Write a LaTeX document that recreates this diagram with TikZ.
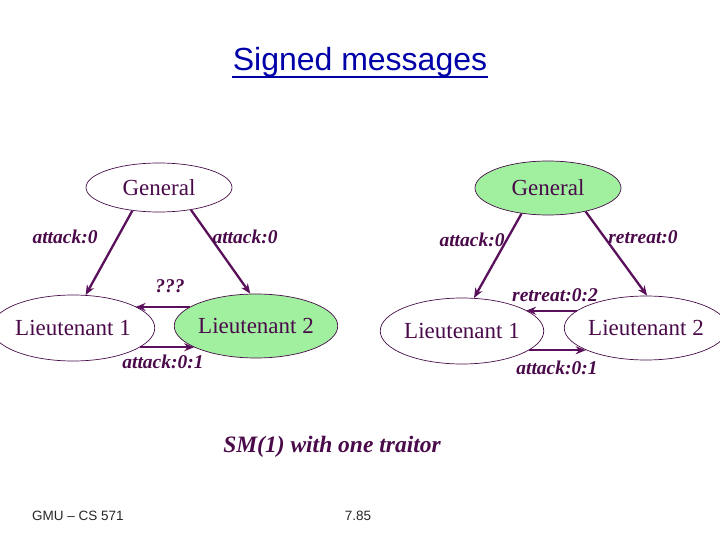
\documentclass[tikz,border=0pt]{standalone}
\usepackage{fontspec}
\setmainfont{Liberation Serif}
\newfontfamily\arialfont{Liberation Sans}
\usetikzlibrary{shapes.geometric,arrows.meta}
\definecolor{plum}{HTML}{5A105A}
\definecolor{labcol}{HTML}{4A0A4A}
\definecolor{lgreen}{HTML}{A0F0A0}
\definecolor{titleblue}{HTML}{0000A8}
\begin{document}
\begin{tikzpicture}[x=1pt,y=-1pt,
  ell/.style={ellipse, draw=plum!80!black, line width=0.7pt, minimum width=146pt, inner sep=0pt, font=\fontsize{23}{26}\selectfont, text=labcol},
  msg/.style={-{Stealth[length=10pt,width=8pt]}, line width=2.3pt, draw=plum},
  lab/.style={font=\fontsize{19.5}{22}\selectfont\bfseries\itshape, text=labcol, inner sep=0pt}]
\useasboundingbox (0,0) rectangle (720,540);
% title
\node[font=\arialfont\fontsize{32}{35}\selectfont, text=titleblue, inner sep=0pt] (title) at (360,62) {Signed messages};
\draw[titleblue, line width=1.6pt] (232,77) -- (488,77);
% left diagram
\node[ell, minimum height=49pt] (g1) at (159,187.5) {General};
\node[ell, minimum height=66pt] (la1) at (73,328) {Lieutenant 1};
\node[ell, minimum height=64pt, fill=lgreen] (la2) at (256,326) {Lieutenant 2};
\draw[msg] (g1.221.8) -- (la1.69);
\draw[msg] (g1.-35.8) -- (la2.100.6);
\draw[msg] (la2.164) -- (la2.164 -| la1.19);
\draw[msg] (la1.-16.7) -- (la1.-16.7 -| la2.199.7);
\node[lab] (l1) at (65,237) {attack:0};
\node[lab] (l2) at (245,237) {attack:0};
\node[lab] (l3) at (170,286) {???};
\node[lab] (l4) at (163,362) {attack:0:1};
% right diagram
\node[ell, minimum height=54pt, fill=lgreen] (g2) at (548,188) {General};
\node[ell, minimum height=66pt] (lb1) at (462,331) {Lieutenant 1};
\node[ell, minimum height=64pt] (lb2) at (646,328) {Lieutenant 2};
\draw[msg] (g2.224) -- (lb1.70.5);
\draw[msg] (g2.-32.7) -- (lb2.88);
\draw[msg] (lb2.166.6) -- (lb2.166.6 -| lb1.18);
\draw[msg] (lb1.-16.4) -- (lb1.-16.4 -| lb2.200.6);
\node[lab] (r1) at (472,240) {attack:0};
\node[lab] (r2) at (643,237) {retreat:0};
\node[lab] (r3) at (555,295) {retreat:0:2};
\node[lab] (r4) at (557,368) {attack:0:1};
% caption and footer
\node[font=\fontsize{23.5}{26}\selectfont\bfseries\itshape, text=labcol, inner sep=0pt] (cap) at (332,447) {SM(1) with one traitor};
\node[font=\arialfont\fontsize{13.5}{15}\selectfont, text=black!85, inner sep=0pt] (foot1) at (78,516) {GMU \textendash{} CS 571};
\node[font=\arialfont\fontsize{13.5}{15}\selectfont, text=black!85, inner sep=0pt] (foot2) at (358,516) {7.85};
\end{tikzpicture}
\end{document}
